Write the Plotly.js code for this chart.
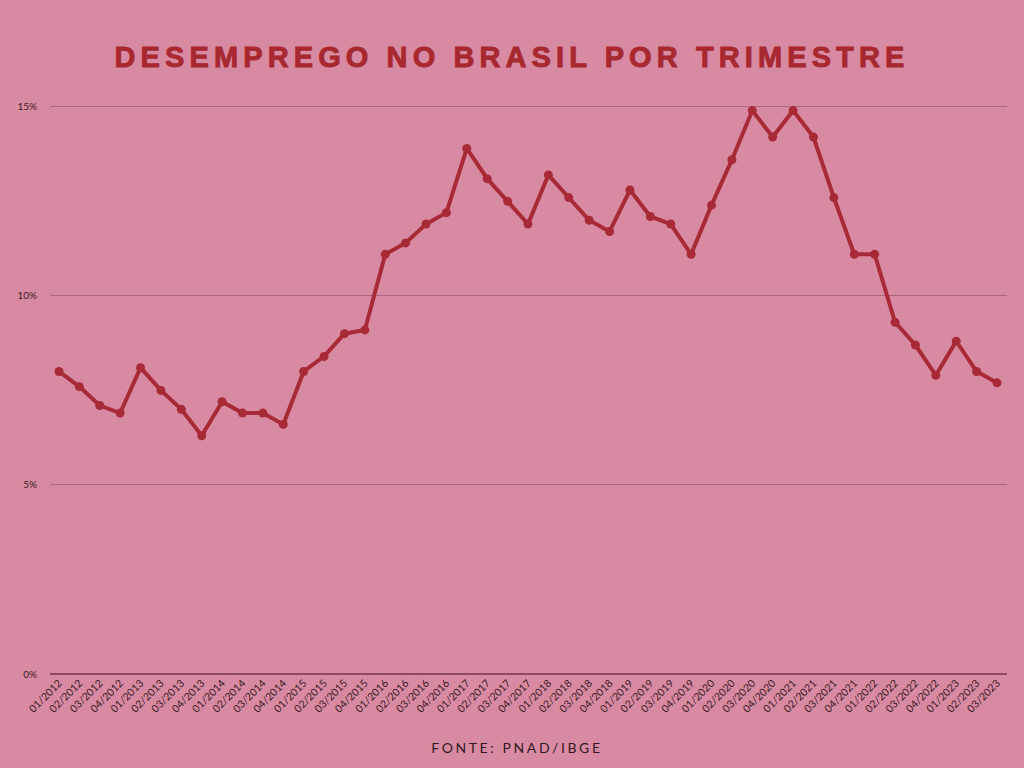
<!DOCTYPE html>
<html>
<head>
<meta charset="utf-8">
<script src="https://cdn.plot.ly/plotly-3.0.1.min.js"></script>
<style>html,body{margin:0;padding:0;background:#D98AA3;}</style>
</head>
<body>
<div id="chart" style="width:1024px;height:768px;"></div>
<script>
const quarters = ["01/2012","02/2012","03/2012","04/2012","01/2013","02/2013","03/2013","04/2013",
"01/2014","02/2014","03/2014","04/2014","01/2015","02/2015","03/2015","04/2015",
"01/2016","02/2016","03/2016","04/2016","01/2017","02/2017","03/2017","04/2017",
"01/2018","02/2018","03/2018","04/2018","01/2019","02/2019","03/2019","04/2019",
"01/2020","02/2020","03/2020","04/2020","01/2021","02/2021","03/2021","04/2021",
"01/2022","02/2022","03/2022","04/2022","01/2023","02/2023","03/2023"];
const unemployment = [8.0,7.6,7.1,6.9,8.1,7.5,7.0,6.3,
7.2,6.9,6.9,6.6,8.0,8.4,9.0,9.1,
11.1,11.4,11.9,12.2,13.9,13.1,12.5,11.9,
13.2,12.6,12.0,11.7,12.8,12.1,11.9,11.1,
12.4,13.6,14.9,14.2,14.9,14.2,12.6,11.1,
11.1,9.3,8.7,7.9,8.8,8.0,7.7];
const yTickVals = [0,5,10,15];
const yTickText = ["0%","5%","10%","15%"];
const titleText = "DESEMPREGO NO BRASIL POR TRIMESTRE";
const sourceText = "FONTE: PNAD/IBGE";

const bg = "#D98AA3";
const trace = {
  x: quarters, y: unemployment, type: "scatter", mode: "lines+markers",
  line: {color: "#A72A36", width: 4},
  marker: {color: "#A72A36", size: 9},
  hoverinfo: "x+y"
};
const layout = {
  width: 1024, height: 768,
  paper_bgcolor: bg, plot_bgcolor: bg,
  margin: {l: 50, r: 17, t: 69, b: 94},
  showlegend: false,
  title: {text: titleText, x: 0.5, xanchor: "center", y: 0.926, yanchor: "middle",
    font: {family: "Liberation Sans, Arial, sans-serif", size: 29, color: "#A8282F", weight: 900}},
  xaxis: {type: "category", range: [-0.44, 46.49], showgrid: false, zeroline: false,
    showline: false, tickangle: -45, ticks: "", fixedrange: true,
    tickfont: {family: "Lato, sans-serif", size: 10.5, color: "#3A1A24"}},
  yaxis: {range: [0, 16], tickvals: yTickVals, ticktext: yTickText, showgrid: true,
    gridcolor: "#AE6680", gridwidth: 1, zeroline: true, zerolinecolor: "#8E4A62", zerolinewidth: 1.5,
    showline: false, ticks: "", ticklabelstandoff: 12, fixedrange: true,
    tickfont: {family: "Lato, sans-serif", size: 10, color: "#3A1A24"}},
  annotations: [{text: sourceText, xref: "paper", yref: "paper", x: 0.4885, y: -0.1207,
    xanchor: "center", yanchor: "middle", showarrow: false,
    font: {family: "Lato, sans-serif", size: 14, color: "#2E1A20"}}]
};
Plotly.newPlot("chart", [trace], layout, {displayModeBar: false, staticPlot: true}).then(function(){
  document.querySelectorAll(".gtitle").forEach(function(t){
    t.style.letterSpacing = "5.1px";
    t.style.stroke = "#A8282F"; t.style.strokeWidth = "0.9px";
  });
  document.querySelectorAll(".annotation-text").forEach(function(t){ t.style.letterSpacing = "2.6px"; });
});
</script>
</body>
</html>
